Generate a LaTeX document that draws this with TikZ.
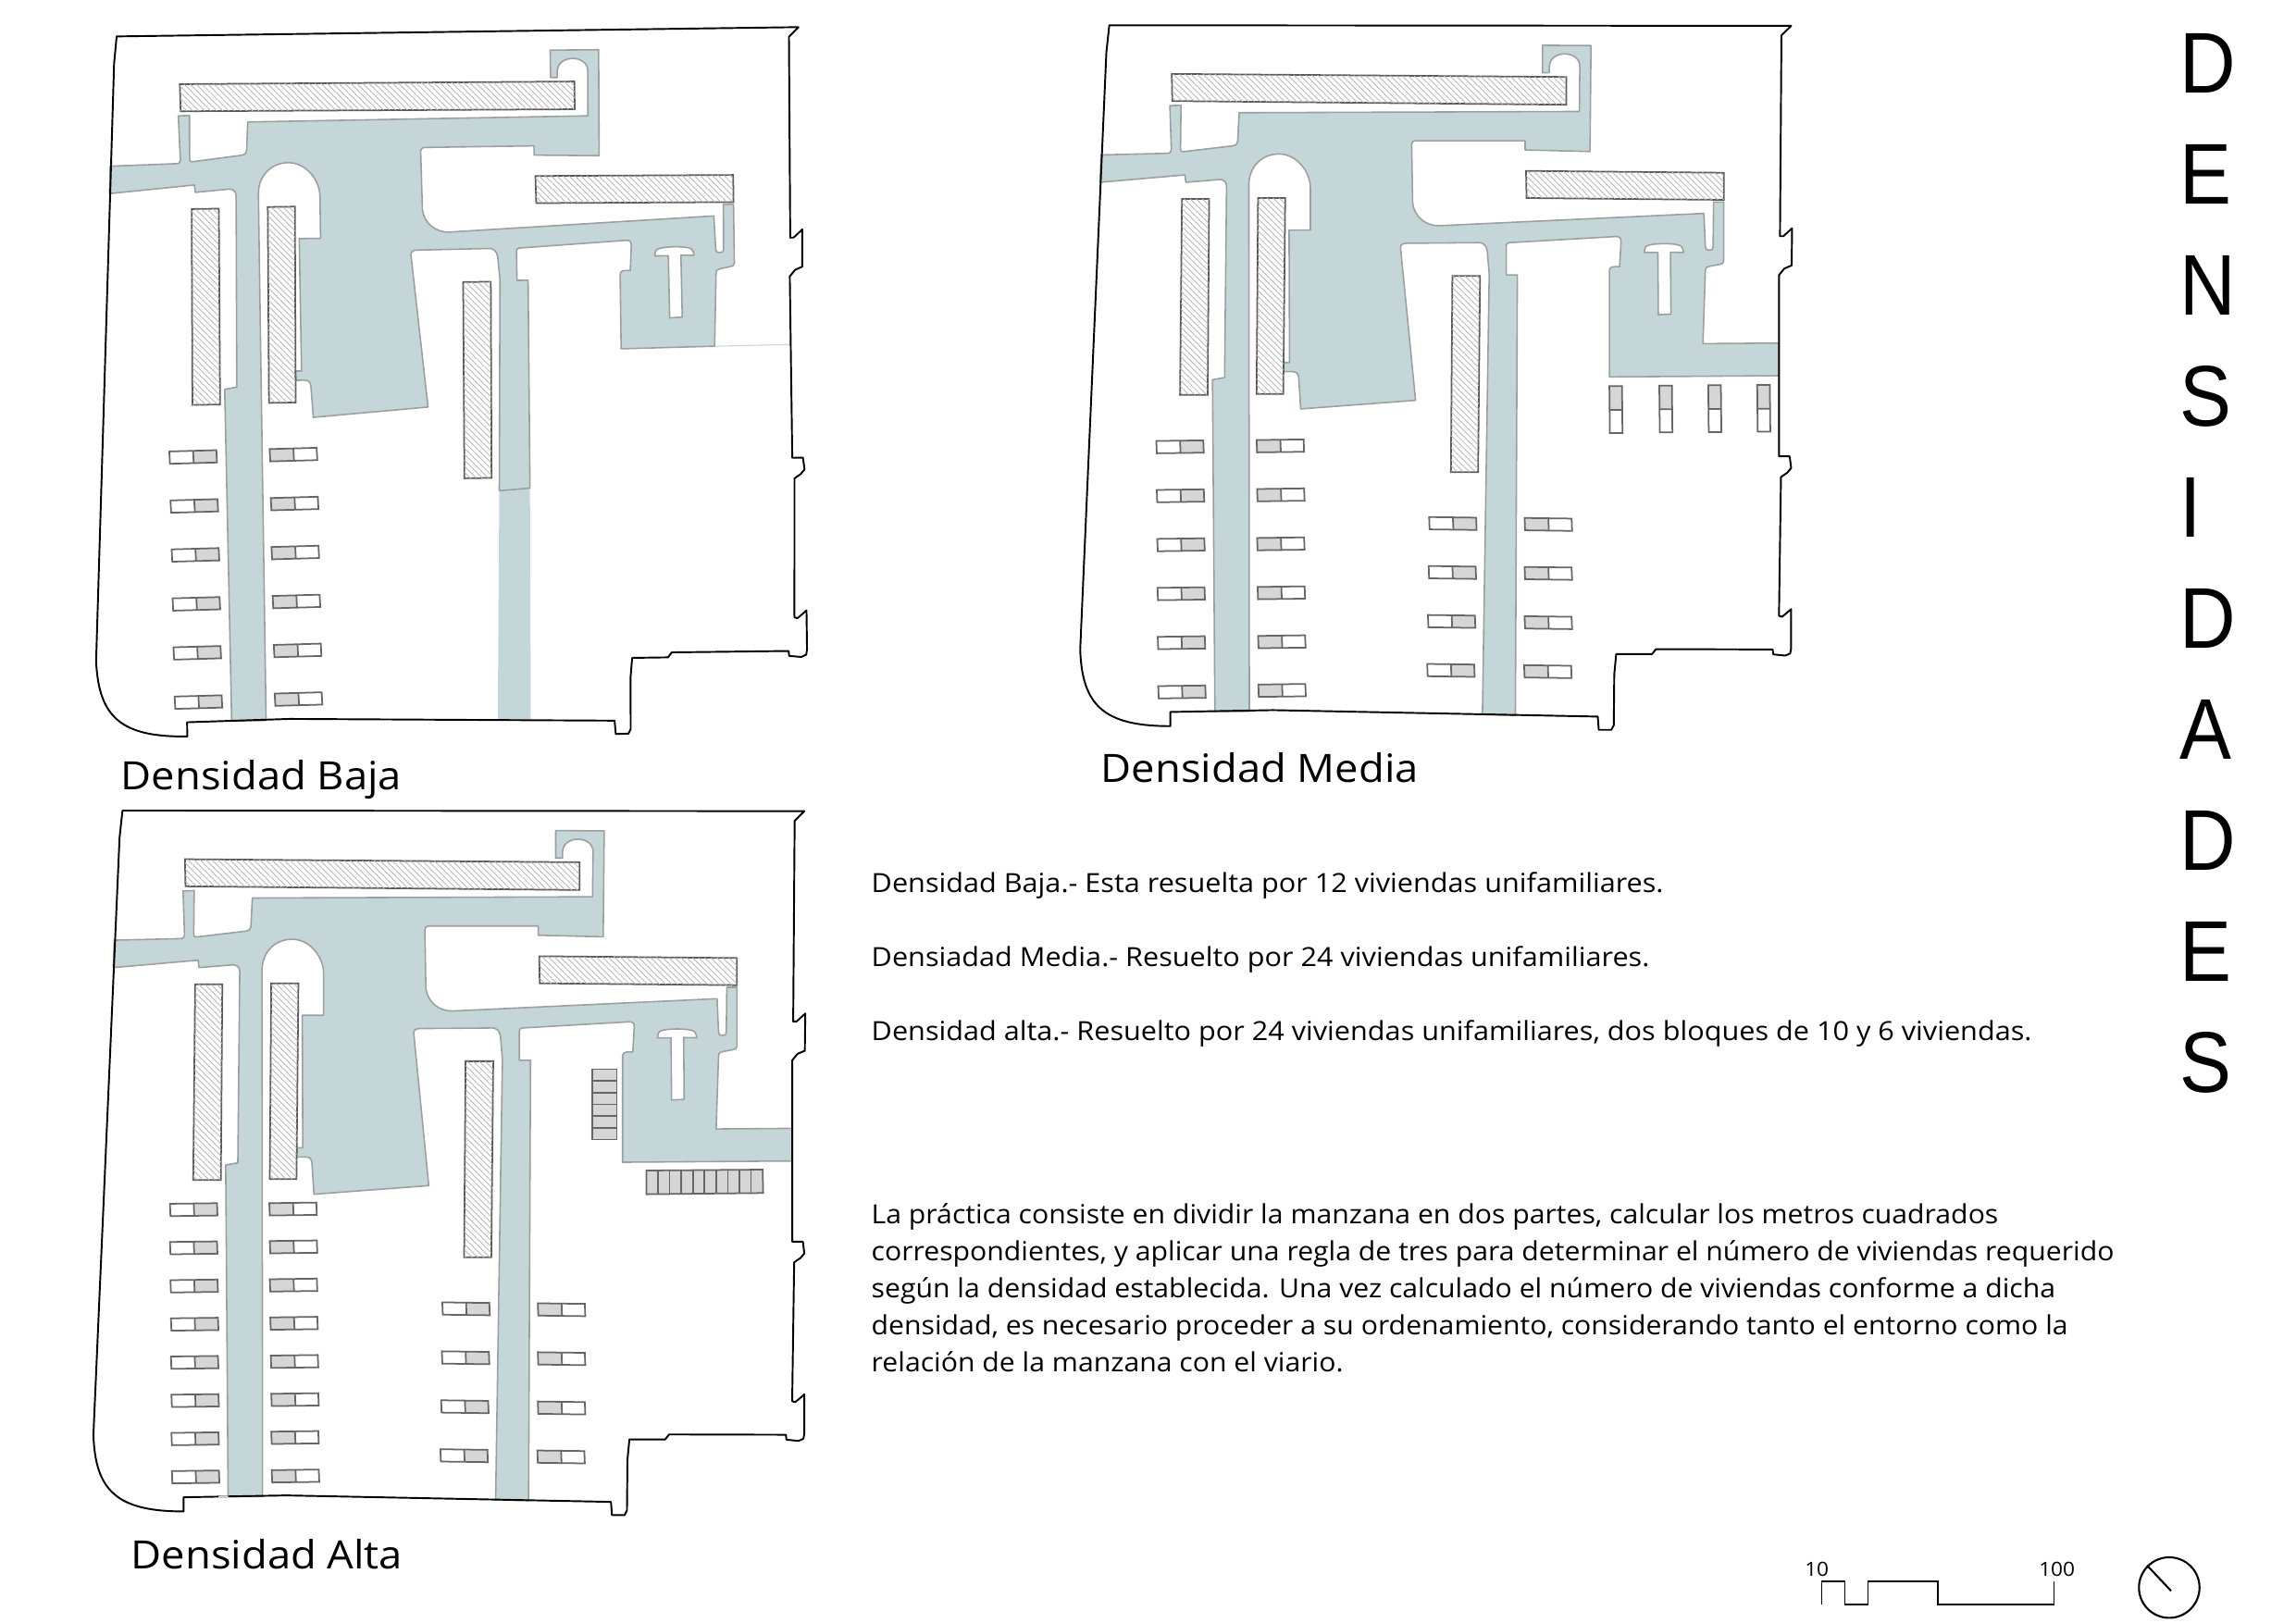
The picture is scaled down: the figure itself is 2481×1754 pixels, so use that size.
\documentclass[tikz,border=0pt]{standalone}
\usepackage{fontspec}
\setmainfont[FakeStretch=1.075]{Open Sans}
\newfontfamily\parafont[FakeStretch=1.06]{Open Sans}
\newfontfamily\bigfont[FakeStretch=0.9]{Liberation Sans}
\usetikzlibrary{patterns.meta}

\definecolor{roadfill}{HTML}{C5D6D8}
\definecolor{roadline}{HTML}{9C9FA0}
\definecolor{housegrey}{HTML}{D6D6D6}
\definecolor{houseline}{HTML}{666666}
\definecolor{blockline}{HTML}{5A5A5A}

\tikzset{
	road/.style={fill=roadfill, draw=roadline, line width=0.45pt, line join=round},
	hatched/.style={draw=blockline, line width=0.5pt, postaction={fill=white, pattern={Lines[angle=-45, distance=1.3pt, line width=0.25pt]}, pattern color=black!28}},
	house/.style={draw=houseline, line width=0.5pt},
	boundary/.style={draw=black, line width=0.55pt, line join=round},
	plantitle/.style={anchor=base west, inner sep=0pt, font=\fontsize{12}{14}\selectfont},
	bodytext/.style={anchor=base west, inner sep=0pt, font=\fontsize{8.1}{11.38}\selectfont},
	paratext/.style={anchor=base west, inner sep=0pt, font=\parafont\fontsize{8.1}{11.38}\selectfont},
	bigletter/.style={anchor=base west, inner sep=0pt, font=\bigfont\fontsize{26.5}{30}\selectfont},
	scaletext/.style={anchor=base, inner sep=0pt, font=\fontsize{6}{7}\selectfont}
}

% #1 = yard edge, #2 = foot of the east road
\newcommand{\roadshape}[2]{
	(95,503) -- (230,498) .. controls (238,498) and (240,494) .. (240,486)
	-- (237,343) -- (260,342) -- (259,485) .. controls (259,491) and (261,494) .. (267,492)
	-- (365,474) .. controls (374,472) and (377,467) .. (377,458)
	-- (380,366) -- (1082,362) -- (1083,215)
	.. controls (1083,190) and (1068,175) .. (1052,175)
	.. controls (1032,175) and (1020,195) .. (1020,215)
	-- (1020,236) -- (1006,236) -- (1006,147) -- (1106,148) -- (1104,492)
	-- (970,487) -- (970,457) -- (746,457) .. controls (739,457) and (736,461) .. (736,468)
	-- (738,660) .. controls (742,705) and (765,733) .. (792,733)
	-- (1339,693) -- (1342,802) .. controls (1342,810) and (1345,812) .. (1349,812)
	.. controls (1356,812) and (1358,810) .. (1358,802)
	-- (1359,656) -- (1380,656) -- (1380,848) .. controls (1380,855) and (1376,858) .. (1370,859)
	-- (1350,865) .. controls (1344,867) and (1342,870) .. (1342,878)
	#1
	-- (1144,880) .. controls (1144,870) and (1148,866) .. (1155,866)
	-- (1165,866) -- (1168,785) .. controls (1168,772) and (1165,768) .. (1158,768)
	-- (938,788) .. controls (933,789) and (931,791) .. (931,797)
	-- (931,893) -- (954,893)
	#2
	-- (896,890) -- (892,815) .. controls (890,797) and (884,788) .. (875,788)
	-- (725,790) .. controls (717,790) and (713,795) .. (713,805)
	-- (744,1300) -- (507,1328) -- (503,1228) .. controls (502,1215) and (500,1207) .. (490,1207)
	-- (472,1207) -- (472,1177) -- (484,1177) -- (483,747) -- (527,747) -- (527,610)
	.. controls (527,560) and (500,500) .. (462,500)
	.. controls (425,500) and (400,545) .. (400,600)
	-- (401,2310) -- (330,2310) -- (325,1233) -- (350,1226) -- (354,605)
	.. controls (354,592) and (349,583) .. (340,583)
	-- (270,592) -- (268,568) -- (93,592) -- cycle
}

% island, slabs and site boundary shared by the three plans
\newcommand{\planbase}{
	\draw[road, fill=white] (1216,820) -- (1217,810) .. controls (1218,800) and (1222,796) .. (1228,795)
		.. controls (1245,790) and (1270,790) .. (1285,795) .. controls (1292,797) and (1296,803) .. (1297,820)
		-- (1270,819) -- (1271,1020) -- (1245,1022) -- (1244,820) -- cycle;
	\draw[hatched] (241,240) -- (1055,250) -- (1055,340) -- (242,328) -- cycle;
	\draw[hatched] (972,555) -- (1380,561) -- (1380,649) -- (973,643) -- cycle;
	\draw[hatched] (262,646) -- (318,646) -- (315,1282) -- (258,1282) -- cycle;
	\draw[hatched] (419,643) -- (475,643) -- (471,1279) -- (416,1279) -- cycle;
	\draw[hatched] (820,896) -- (877,896) -- (873,1533) -- (817,1533) -- cycle;
	\draw[boundary] (112,82) -- (1519,84) -- (1499,115) -- (1496,767) -- (1503,767) -- (1521,741)
		-- (1520,862) -- (1505,872) -- (1494,893) -- (1494,1482) -- (1516,1482) -- (1519,1520)
		-- (1511,1535) -- (1498,1549) -- (1494,1990) -- (1494,2000) -- (1500,2003) -- (1508,1993)
		-- (1519,1978) -- (1519,2105) -- (1517,2122) -- (1507,2129) -- (1482,2125) -- (1481,2109)
		-- (1240,2108) -- (1232,2124) -- (1158,2124) -- (1154,2190) -- (1153,2355) -- (1148,2370)
		-- (1122,2370) -- (1120,2327) -- (450,2306) -- (238,2312) -- (238,2358)
		.. controls (100,2358) and (56,2290) .. (52,2110) -- (106,170) -- cycle;
}

% houses: x, y, tilt
\newcommand{\houseL}[3]{
	\begin{scope}[shift={(#1,#2)}]
		\fill[housegrey] (49,#3/2) -- (97,#3) -- (98,40+#3) -- (50,40+#3/2) -- cycle;
		\draw[house] (0,0) -- (97,#3) -- (98,40+#3) -- (1,40) -- cycle (49,#3/2) -- (50,40+#3/2);
	\end{scope}
}
\newcommand{\houseR}[3]{
	\begin{scope}[shift={(#1,#2)}]
		\fill[housegrey] (0,0) -- (49,#3/2) -- (50,40+#3/2) -- (1,40) -- cycle;
		\draw[house] (0,0) -- (97,#3) -- (98,40+#3) -- (1,40) -- cycle (49,#3/2) -- (50,40+#3/2);
	\end{scope}
}
% house turned a quarter: x, y
\newcommand{\houseV}[2]{
	\begin{scope}[shift={(#1,#2)}]
		\fill[housegrey] (0,0) -- (26,0) -- (26.5,77) -- (0.5,77) -- cycle;
		\draw[house] (0,0) -- (26,0) -- (27,152) -- (1,152) -- cycle (0.5,77) -- (26.5,77);
	\end{scope}
}
% the two long rows of six houses
\newcommand{\westrows}{
	\foreach \hx/\hy in {209/1432, 210/1591, 211/1750, 211.5/1909, 212/2068, 213/2228}
		{\houseL{\hx}{\hy}{-2}}
	\foreach \hx/\hy in {416/1429, 417/1588, 417/1747, 418/1906, 419/2065, 419.5/2223}
		{\houseR{\hx}{\hy}{-2}}
}
% the two short rows of four houses
\newcommand{\eastrows}{
	\foreach \hx/\hy in {772/1679, 771/1838, 769.5/1997, 768/2156}
		{\houseL{\hx}{\hy}{2}}
	\foreach \hx/\hy in {969/1682, 969/1841, 969/2001, 968/2160}
		{\houseR{\hx}{\hy}{2}}
}

\begin{document}
\begin{tikzpicture}[x=0.01cm, y=-0.01cm]

	\useasboundingbox (0,0) rectangle (2481,1754);

	% Plan, low density
	\begin{scope}[shift={(67.0,12.93)}, x={(0.005235cm,0.0000807cm)}, y={(0.0000513cm,-0.003329cm)}]
		\fill[roadfill] (888.6,1575) -- (952,1568) -- (947,2323) -- (879,2321) -- cycle;
		\draw[roadfill, line width=0.3pt] (1337,1116) -- (1494,1114);
		\draw[road] \roadshape{-- (1337,1116) -- (1144,1120)}{-- (952,1568) -- (888.6,1575)};
		\planbase
		\westrows
	\end{scope}

	% Plan, medium density
	\begin{scope}[shift={(1140,0)}, x={(0.00523cm,0cm)}, y={(0cm,-0.003333cm)}]
		\draw[road] \roadshape{-- (1337,1116) -- (1494,1114) -- (1494,1220) -- (1144,1224)}{-- (950,2323) -- (882,2320)};
		\planbase
		\westrows
		\eastrows
		\foreach \hx/\hy in {1144/1254, 1247/1252, 1348/1251, 1449/1250}
			{\houseV{\hx}{\hy}}
	\end{scope}

	% Plan, high density
	\begin{scope}[shift={(73.7,848.67)}, x={(0.00523cm,0cm)}, y={(0cm,-0.003333cm)}]
		\draw[road] \roadshape{-- (1337,1116) -- (1494,1114) -- (1494,1220) -- (1144,1224)}{-- (950,2323) -- (882,2320)};
		\planbase
		\draw[housegrey, line width=0.6pt] (310,2310.5) -- (330,2309.7);
		\foreach \hx/\hy in {210/1359, 210/1483, 211/1607, 212/1731, 212/1855, 213/1979, 213/2103, 214/2227}
			{\houseL{\hx}{\hy}{-2}}
		\foreach \hx/\hy in {415/1357, 416/1480, 416/1604, 417/1728, 418/1852, 419/1976, 419/2099, 420/2224}
			{\houseR{\hx}{\hy}{-2}}
		\eastrows
		% Blocks of flats
		\draw[house, fill=housegrey] (1082,922) rectangle (1132,1150);
		\foreach \i in {1,...,5}
			\draw[house] (1082,922+38*\i) -- (1132,922+38*\i);
		\draw[house, fill=housegrey] (1193,1251) -- (1433,1248) -- (1434,1324) -- (1193,1328) -- cycle;
		\foreach \i in {1,...,9}
			\draw[house] (1193+24*\i,1251-0.3*\i) -- (1193+24*\i,1328-0.4*\i);
	\end{scope}

	% Titles under the plans
	\node[plantitle] (titlelow) at (130,853) {Densidad Baja};
	\node[plantitle] (titlemedium) at (1189,845) {Densidad Media};
	\node[plantitle] (titlehigh) at (141,1695) {Densidad Alta};

	% Notes
	\node[bodytext] (notelow) at (941,964.5) {Densidad Baja.- Esta resuelta por 12 viviendas unifamiliares.};
	\node[bodytext] (notemedium) at (941,1044.5) {Densiadad Media.- Resuelto por 24 viviendas unifamiliares.};
	\node[bodytext] (notehigh) at (941,1124.5) {Densidad alta.- Resuelto por 24 viviendas unifamiliares, dos bloques de 10 y 6 viviendas.};
	\node[paratext] (notea) at (941,1322.5) {La práctica consiste en dividir la manzana en dos partes, calcular los metros cuadrados};
	\node[paratext] (noteb) at (941,1362.5) {correspondientes, y aplicar una regla de tres para determinar el número de viviendas requerido};
	\node[paratext] (notec) at (941,1402.5) {según la densidad establecida. Una vez calculado el número de viviendas conforme a dicha};
	\node[paratext] (noted) at (941,1442.5) {densidad, es necesario proceder a su ordenamiento, considerando tanto el entorno como la};
	\node[paratext] (notee) at (941,1482.5) {relación de la manzana con el viario.};

	% Vertical heading
	\foreach \ltr [count=\k] in {D,E,N,S,I,D,A,D,E,S}
		\node[bigletter] (letter\k) at (2355,100.8+120*\k-120) {\ltr};

	% Scale bar
	\draw[line width=0.45pt, line join=miter] (1968.3,1733.7) -- (1968.3,1708.7) -- (1993.3,1708.7) -- (1993.3,1733.7)
		-- (2018.3,1733.7) -- (2018.3,1708.7) -- (2093.7,1708.7) -- (2093.7,1733.7) -- (2219.3,1733.7) -- (2219.3,1708.7);
	\node[scaletext] (scalemin) at (1963.2,1703.3) {10};
	\node[scaletext] (scalemax) at (2222.7,1703.3) {100};

	% North point
	\node[draw, circle, inner sep=0pt, minimum size=0.654cm, line width=0.6pt] (north) at (2344,1715.7) {};
	\coordinate (northtip) at (2346,1719.3);
	\draw[line width=0.6pt] (north.135) -- (northtip);

\end{tikzpicture}
\end{document}
